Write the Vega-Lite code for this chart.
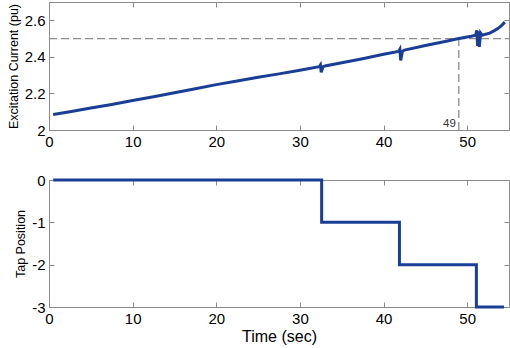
{
  "$schema": "https://vega.github.io/schema/vega-lite/v6.json",
  "autosize": {"type": "pad"},
  "padding": {"left": 6, "top": 1, "right": 2, "bottom": 0},
  "background": "white",
  "spacing": 50,
  "bounds": "flush",
  "config": {
    "font": "Liberation Sans",
    "view": {"stroke": "#8a8a8a", "strokeWidth": 1},
    "axis": {
      "domain": false,
      "grid": false,
      "tickColor": "#8a8a8a",
      "tickSize": -5,
      "labelFont": "Liberation Sans",
      "labelFontSize": 15,
      "labelColor": "#000000",
      "titleFont": "Liberation Sans",
      "titleFontWeight": "normal",
      "titleColor": "#000000",
      "labelFlush": false
    }
  },
  "datasets": {
    "curve": [
      {"t": 0.5, "i": 2.085},
      {"t": 2.5, "i": 2.1},
      {"t": 5, "i": 2.12},
      {"t": 7.5, "i": 2.14},
      {"t": 10, "i": 2.161},
      {"t": 12.5, "i": 2.182},
      {"t": 15, "i": 2.204},
      {"t": 17.5, "i": 2.226},
      {"t": 20, "i": 2.248},
      {"t": 22.5, "i": 2.268},
      {"t": 25, "i": 2.288},
      {"t": 27.5, "i": 2.307},
      {"t": 30, "i": 2.327},
      {"t": 32.3, "i": 2.346},
      {"t": 32.45, "i": 2.356},
      {"t": 32.55, "i": 2.315},
      {"t": 32.75, "i": 2.345},
      {"t": 33, "i": 2.35},
      {"t": 35, "i": 2.368},
      {"t": 37.5, "i": 2.39},
      {"t": 40, "i": 2.414},
      {"t": 41.8, "i": 2.43},
      {"t": 41.95, "i": 2.442},
      {"t": 42.05, "i": 2.38},
      {"t": 42.25, "i": 2.43},
      {"t": 42.5, "i": 2.437},
      {"t": 45, "i": 2.462},
      {"t": 47.5, "i": 2.485},
      {"t": 49, "i": 2.5},
      {"t": 50.5, "i": 2.513},
      {"t": 51.0, "i": 2.518},
      {"t": 51.15, "i": 2.545},
      {"t": 51.25, "i": 2.46},
      {"t": 51.35, "i": 2.54},
      {"t": 51.45, "i": 2.455},
      {"t": 51.6, "i": 2.53},
      {"t": 51.8, "i": 2.518},
      {"t": 52.2, "i": 2.524},
      {"t": 52.7, "i": 2.53},
      {"t": 53.2, "i": 2.542},
      {"t": 53.7, "i": 2.556},
      {"t": 54.1, "i": 2.571},
      {"t": 54.5, "i": 2.59}
    ],
    "refs": [
      {"x1": 0, "x2": 55, "y1": 2.5, "y2": 2.5},
      {"x1": 49, "x2": 49, "y1": 2.0, "y2": 2.5}
    ],
    "lab": [{"t": 49, "i": 2.0, "label": "49"}],
    "tap": [
      {"t": 0.5, "p": 0},
      {"t": 32.6, "p": -1},
      {"t": 41.9, "p": -2},
      {"t": 51.1, "p": -3},
      {"t": 54.4, "p": -3}
    ]
  },
  "vconcat": [
    {
      "width": 460,
      "height": 128,
      "layer": [
        {
          "data": {"name": "refs"},
          "mark": {"type": "rule", "color": "#8c8c8c", "strokeWidth": 1.3, "strokeDash": [8, 4]},
          "encoding": {
            "x": {"field": "x1", "type": "quantitative", "scale": {"domain": [0, 55], "nice": false},
              "axis": {"orient": "top", "labels": false, "title": null, "values": [0, 10, 20, 30, 40, 50]}},
            "x2": {"field": "x2"},
            "y": {"field": "y1", "type": "quantitative", "scale": {"domain": [2, 2.7], "nice": false},
              "axis": {"orient": "right", "labels": false, "title": null, "values": [2, 2.2, 2.4, 2.6]}},
            "y2": {"field": "y2"}
          }
        },
        {
          "data": {"name": "curve"},
          "mark": {"type": "line", "color": "#1a3e96", "strokeWidth": 3},
          "encoding": {
            "x": {"field": "t", "type": "quantitative",
              "axis": {"orient": "bottom", "title": null, "values": [0, 10, 20, 30, 40, 50], "labelPadding": 9}},
            "y": {"field": "i", "type": "quantitative",
              "axis": {"orient": "left", "title": "Excitation Current (pu)", "titleFontSize": 12.5, "values": [2, 2.2, 2.4, 2.6], "format": "~g", "labelPadding": 9}}
          }
        },
        {
          "data": {"name": "lab"},
          "mark": {"type": "text", "align": "right", "baseline": "bottom", "dx": -3, "dy": -1, "fontSize": 11.5, "color": "#333333"},
          "encoding": {
            "x": {"field": "t", "type": "quantitative", "axis": null},
            "y": {"field": "i", "type": "quantitative", "axis": null},
            "text": {"field": "label"}
          }
        }
      ],
      "resolve": {"axis": {"x": "independent", "y": "independent"}}
    },
    {
      "width": 460,
      "height": 127,
      "data": {"name": "tap"},
      "layer": [
        {
          "mark": {"type": "line", "opacity": 0},
          "encoding": {
            "x": {"field": "t", "type": "quantitative", "scale": {"domain": [0, 55], "nice": false},
              "axis": {"orient": "top", "labels": false, "title": null, "values": [0, 10, 20, 30, 40, 50]}},
            "y": {"field": "p", "type": "quantitative", "scale": {"domain": [-3, 0], "nice": false},
              "axis": {"orient": "right", "labels": false, "title": null, "values": [-3, -2, -1, 0]}}
          }
        },
        {
          "mark": {"type": "line", "color": "#1a3e96", "strokeWidth": 3, "interpolate": "step-after"},
          "encoding": {
            "x": {"field": "t", "type": "quantitative",
              "axis": {"orient": "bottom", "title": "Time (sec)", "titleFontSize": 16, "titlePadding": 2, "values": [0, 10, 20, 30, 40, 50], "labelPadding": 9}},
            "y": {"field": "p", "type": "quantitative",
              "axis": {"orient": "left", "title": "Tap Position", "titleFontSize": 12.5, "values": [-3, -2, -1, 0], "labelExpr": "toString(datum.value)", "labelPadding": 9}}
          }
        }
      ],
      "resolve": {"axis": {"x": "independent", "y": "independent"}}
    }
  ]
}
